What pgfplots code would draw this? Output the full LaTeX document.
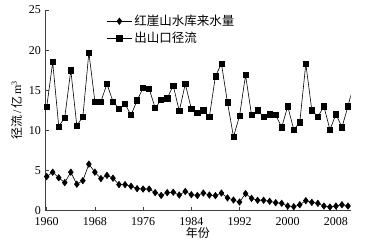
\documentclass[border=0pt]{standalone}
\usepackage{fontspec}
\setmainfont{Liberation Serif}
\newfontfamily\cjk{Noto Sans CJK SC}
\usepackage{pgfplots}
\pgfplotsset{compat=1.18}
\begin{document}
\begin{tikzpicture}[x=1pt,y=1pt]
\begin{axis}[
 scale only axis, width=305.7pt, height=200.7pt,
 at={(0,0)}, anchor=south west,
 xmin=1959.72, xmax=2010.45, ymin=0, ymax=25,
 axis x line*=bottom, axis y line*=left,
 axis line style={line width=0.6pt, black!75},
 tick align=inside, major tick length=4pt,
 tick style={line width=0.6pt, black!75},
 xtick={1960,1968,...,2008}, ytick={0,5,...,25},
 minor tick num=0,
 tick label style={font=\fontsize{12}{14}\selectfont},
 x tick label style={/pgf/number format/1000 sep={}, inner ysep=0pt, yshift=-7pt},
 y tick label style={inner ysep=0pt, xshift=-0.5pt},
 /pgf/number format/assume math mode=true,
 xlabel={\cjk 年份},
 ylabel={{\cjk 径流}\,/\,{\cjk 亿}\,m\textsuperscript{3}},
 label style={font=\fontsize{12}{14}\selectfont},
 xlabel style={yshift=2pt},
 legend style={at={(0.19,0.995)}, anchor=north west, draw=none, fill=none,
   font=\cjk\fontsize{12.5}{14}\selectfont, row sep=1pt},
 legend cell align=left,
 legend image code/.code={\draw[mark repeat=2,mark phase=2,#1] plot coordinates {(0cm,0cm) (0.45cm,0cm) (0.9cm,0cm)};},
]
\addplot[black, line width=0.6pt, mark=diamond*, mark size=3.2pt] coordinates {
(1960,4.25) (1961,4.8) (1962,4.1) (1963,3.5) (1964,4.8) (1965,3.3) (1966,3.75) (1967,5.8) (1968,4.8) (1969,4.0)
(1970,4.4) (1971,4.05) (1972,3.25) (1973,3.25) (1974,3.05) (1975,2.75) (1976,2.7) (1977,2.7) (1978,2.25) (1979,1.9)
(1980,2.25) (1981,2.3) (1982,1.95) (1983,2.4) (1984,2.0) (1985,1.9) (1986,2.2) (1987,1.95) (1988,1.88) (1989,2.2)
(1990,1.6) (1991,1.33) (1992,1.08) (1993,2.13) (1994,1.54) (1995,1.3) (1996,1.3) (1997,1.17) (1998,1.0) (1999,0.92)
(2000,0.58) (2001,0.5) (2002,0.75) (2003,1.25) (2004,1.04) (2005,0.92) (2006,0.58) (2007,0.46) (2008,0.58) (2009,0.75)
(2010,0.58)
};
\addlegendentry{红崖山水库来水量}
\addplot[black, line width=0.6pt, mark=square*, mark size=2.6pt] coordinates {
(1960,12.9) (1961,18.5) (1962,10.5) (1963,11.6) (1964,17.5) (1965,10.6) (1966,11.7) (1967,19.7) (1968,13.6) (1969,13.6)
(1970,15.8) (1971,13.6) (1972,12.7) (1973,13.3) (1974,11.9) (1975,13.75) (1976,15.3) (1977,15.2) (1978,12.8) (1979,13.8)
(1980,14.0) (1981,15.6) (1982,12.4) (1983,15.8) (1984,12.7) (1985,12.2) (1986,12.5) (1987,11.7) (1988,16.75) (1989,18.3)
(1990,13.5) (1991,9.2) (1992,11.8) (1993,16.9) (1994,11.9) (1995,12.5) (1996,11.7) (1997,12.0) (1998,11.9) (1999,10.4)
(2000,13.0) (2001,10.1) (2002,11.0) (2003,18.3) (2004,12.5) (2005,11.7) (2006,13.0) (2007,10.1) (2008,12.0) (2009,10.4)
(2010,13.0) (2011,16.0)
};
\addlegendentry{出山口径流}
\end{axis}
\path (-45,-39.3) rectangle (329,210.7);
\end{tikzpicture}
\end{document}
